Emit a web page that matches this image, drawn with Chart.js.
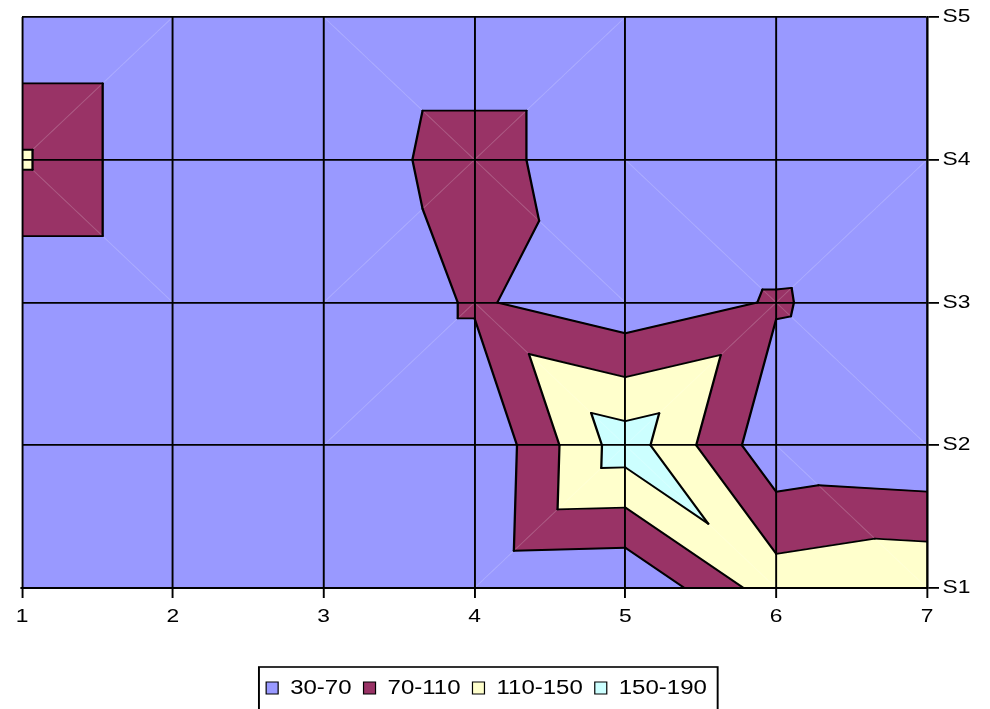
<!DOCTYPE html>
<html>
<head>
<meta charset="utf-8">
<title>Contour</title>
<script src="https://cdn.jsdelivr.net/npm/chart.js@4.4.1/dist/chart.umd.min.js"></script>
<style>
  html, body { margin: 0; padding: 0; background: #fff; }
  canvas { display: block; }
</style>
</head>
<body>
<canvas id="chart" width="990" height="709"></canvas>
<script>
// Columns of the surface grid and the series (rows) names
const xCategories = [1, 2, 3, 4, 5, 6, 7];
const seriesNames = ['S1', 'S2', 'S3', 'S4', 'S5'];

// Surface values: one row per series, one value per column
const S1 = [30, 30, 30, 34, 30, 132, 147];
const S2 = [30, 30, 30, 30, 172, 40, 33];
const S3 = [30, 30, 30, 75, 42, 74, 40];
const S4 = [116, 30, 40, 91, 30, 30, 35];
const S5 = [30, 30, 30, 30, 30, 35, 35];

// Contour band edges (legend ranges)
const bandEdges = [30, 70, 110, 150, 190];

// Styling
const bandColors = ['#9999FF', '#993366', '#FFFFCC', '#CCFFFF'];
const FONT = '"Liberation Sans", Arial, Helvetica, sans-serif';
const STRETCH = 1.2;           // horizontal scale of the whole drawing
const W = 990, H = 709;
const LOGICAL_W = W / STRETCH;

const rows = [S1, S2, S3, S4, S5];

function node(i, j) {
  return { x: xCategories[i], y: j + 1, v: rows[j][i] };
}
function bandOf(v) {
  for (let k = 0; k < bandEdges.length - 2; k++) if (v < bandEdges[k + 1]) return k;
  return bandEdges.length - 2;
}
// Split a grid cell in two triangles along the diagonal through its highest corner
function cellTriangles(i, j) {
  const a = node(i, j), b = node(i + 1, j), c = node(i + 1, j + 1), d = node(i, j + 1);
  const corners = [a, b, c, d];
  let m = 0;
  corners.forEach((p, k) => { if (p.v > corners[m].v) m = k; });
  const flat = new Set(corners.map(p => bandOf(p.v))).size === 1;
  if (m === 0 || m === 2) return { corners, flat, tris: [[a, b, c], [a, c, d]], diag: [a, c] };
  return { corners, flat, tris: [[b, c, d], [b, d, a]], diag: [b, d] };
}
// Keep the part of a polygon above (or below) a level, interpolating linearly
function clipPoly(poly, level, keepAbove) {
  const out = [];
  for (let k = 0; k < poly.length; k++) {
    const a = poly[k], b = poly[(k + 1) % poly.length];
    const ina = keepAbove ? a.v >= level : a.v <= level;
    const inb = keepAbove ? b.v >= level : b.v <= level;
    if (ina) out.push(a);
    if (ina !== inb) {
      const t = (level - a.v) / (b.v - a.v);
      out.push({ x: a.x + t * (b.x - a.x), y: a.y + t * (b.y - a.y), v: level });
    }
  }
  return out;
}
function levelSegment(tri, L) {
  const pts = [];
  for (let k = 0; k < 3; k++) {
    const a = tri[k], b = tri[(k + 1) % 3];
    if ((a.v >= L) !== (b.v >= L)) {
      const t = (L - a.v) / (b.v - a.v);
      pts.push({ x: a.x + t * (b.x - a.x), y: a.y + t * (b.y - a.y) });
    }
  }
  return pts.length === 2 ? pts : null;
}

const cells = [];
for (let j = 0; j < seriesNames.length - 1; j++)
  for (let i = 0; i < xCategories.length - 1; i++) cells.push(cellTriangles(i, j));

function toPx(chart, p) {
  return { x: chart.scales.x.getPixelForValue(p.x), y: chart.scales.y.getPixelForValue(p.y) };
}
function pathPoly(ctx, chart, poly) {
  ctx.beginPath();
  poly.forEach((p, k) => {
    const q = toPx(chart, p);
    if (k === 0) ctx.moveTo(q.x, q.y); else ctx.lineTo(q.x, q.y);
  });
  ctx.closePath();
}

const contourPlugin = {
  id: 'contourSurface',
  beforeDraw(chart) {
    const ctx = chart.ctx;
    ctx.setTransform(STRETCH, 0, 0, 1, 0, 0);
    ctx.save();
    ctx.fillStyle = '#ffffff';
    ctx.fillRect(0, 0, chart.width, chart.height);
    const area = chart.chartArea;
    ctx.beginPath();
    ctx.rect(area.left, area.top, area.right - area.left, area.bottom - area.top);
    ctx.clip();
    ctx.lineJoin = 'round';
    cells.forEach(cell => {
      if (cell.flat) {
        const col = bandColors[bandOf(cell.corners[0].v)];
        pathPoly(ctx, chart, cell.corners);
        ctx.fillStyle = col; ctx.strokeStyle = col; ctx.lineWidth = 1;
        ctx.fill(); ctx.stroke();
        return;
      }
      cell.tris.forEach(tri => {
        for (let k = 0; k < bandColors.length; k++) {
          let poly = clipPoly(tri, bandEdges[k], true);
          if (poly.length) poly = clipPoly(poly, bandEdges[k + 1], false);
          if (poly.length < 3) continue;
          pathPoly(ctx, chart, poly);
          ctx.fillStyle = bandColors[k]; ctx.strokeStyle = bandColors[k]; ctx.lineWidth = 0.8;
          ctx.fill(); ctx.stroke();
        }
      });
    });
    // faint seams along the split diagonals
    ctx.strokeStyle = 'rgba(255,255,255,0.18)';
    ctx.lineWidth = 0.9;
    cells.forEach(cell => {
      if (cell.flat) return;
      const p = toPx(chart, cell.diag[0]), q = toPx(chart, cell.diag[1]);
      ctx.beginPath(); ctx.moveTo(p.x, p.y); ctx.lineTo(q.x, q.y); ctx.stroke();
    });
    ctx.restore();
  },
  beforeDatasetsDraw(chart) {
    const ctx = chart.ctx;
    const area = chart.chartArea;
    ctx.save();
    ctx.beginPath();
    ctx.rect(area.left, area.top, area.right - area.left, area.bottom - area.top);
    ctx.clip();
    ctx.strokeStyle = '#000';
    ctx.lineWidth = 1.9;
    ctx.lineCap = 'round';
    const levels = bandEdges.slice(1, -1);
    cells.forEach(cell => {
      cell.tris.forEach(tri => {
        levels.forEach(L => {
          const seg = levelSegment(tri, L);
          if (!seg) return;
          const p = toPx(chart, seg[0]), q = toPx(chart, seg[1]);
          ctx.beginPath(); ctx.moveTo(p.x, p.y); ctx.lineTo(q.x, q.y); ctx.stroke();
        });
      });
    });
    ctx.restore();
  },
  afterLayout(chart) {
    // centre the legend under the plot
    const lg = chart.legend;
    const c = (chart.chartArea.left + chart.chartArea.right) / 2 + 10;
    const half = (lg.right - lg.left) / 2;
    lg.left = c - half; lg.right = c + half;
  },
  afterDraw(chart) {
    const lg = chart.legend;
    const boxes = lg.legendHitBoxes;
    if (!boxes || !boxes.length) return;
    const first = boxes[0], last = boxes[boxes.length - 1];
    const ctx = chart.ctx;
    ctx.save();
    ctx.strokeStyle = '#000';
    ctx.lineWidth = 1.6;
    const left = first.left - 6, right = last.left + last.width + 9;
    ctx.strokeRect(left, lg.top - 1, right - left, 60);
    ctx.restore();
  }
};

new Chart(document.getElementById('chart'), {
  type: 'scatter',
  data: {
    datasets: bandColors.map((col, k) => ({
      label: bandEdges[k] + '-' + bandEdges[k + 1],
      data: [],
      backgroundColor: col,
      borderColor: '#000',
      borderWidth: 1
    }))
  },
  options: {
    responsive: false,
    animation: false,
    events: [],
    layout: { padding: { left: 22 / STRETCH, top: 17, right: W - LOGICAL_W, bottom: 1 } },
    scales: {
      x: {
        type: 'linear',
        position: 'bottom',
        min: xCategories[0],
        max: xCategories[xCategories.length - 1],
        afterBuildTicks: s => { s.ticks = xCategories.map(v => ({ value: v })); },
        afterFit: s => { s.height = 80; },
        grid: { color: '#000', lineWidth: 1.6, tickLength: 10, drawTicks: true },
        border: { display: true, color: '#000', width: 1.9 },
        ticks: {
          color: '#000', padding: 7, maxRotation: 0, autoSkip: false,
          font: { family: FONT, size: 19 }
        }
      },
      y: {
        type: 'linear',
        position: 'right',
        min: 1,
        max: seriesNames.length,
        afterBuildTicks: s => { s.ticks = seriesNames.map((n, k) => ({ value: k + 1 })); },
        afterFit: s => { s.width = LOGICAL_W - 927 / STRETCH; },
        grid: { color: '#000', lineWidth: 1.8, tickLength: 10, drawTicks: true },
        border: { display: true, color: '#000', width: 1.6 },
        ticks: {
          color: '#000', padding: 3, autoSkip: false,
          callback: v => seriesNames[Math.round(v) - 1],
          font: { family: FONT, size: 19 }
        }
      }
    },
    plugins: {
      legend: {
        position: 'bottom',
        labels: {
          color: '#000',
          boxWidth: 10,
          boxHeight: 12,
          padding: 10,
          font: { family: FONT, size: 20 }
        }
      },
      tooltip: { enabled: false }
    }
  },
  plugins: [contourPlugin]
});
</script>
</body>
</html>
